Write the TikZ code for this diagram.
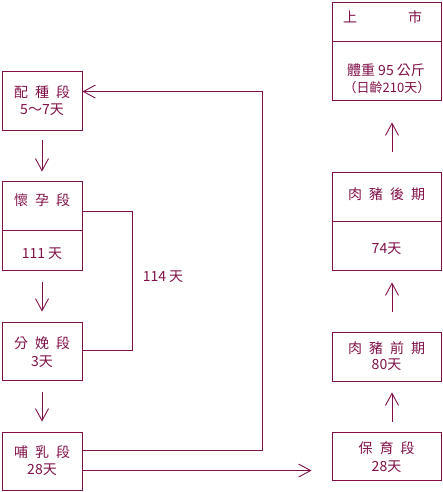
\documentclass[tikz,border=0pt]{standalone}
\usepackage{fontspec}
\setmainfont{Noto Sans CJK TC}
\usetikzlibrary{arrows.meta,calc}
\definecolor{ink}{RGB}{128,16,72}
\newcommand\gapp{\hspace{7pt}}
\tikzset{
  box/.style={draw=ink,line width=0.9pt,inner sep=0pt,minimum width=#1},
  wire/.style={draw=ink,line width=0.9pt},
  arr/.style={draw=ink,line width=0.9pt,-{Straight Barb[length=12pt,width=13pt]}},
  txt/.style={text=ink,inner sep=0pt,font=\fontsize{14}{16}\selectfont},
}
\begin{document}
\begin{tikzpicture}[x=1pt,y=-1pt]
\useasboundingbox (0,0) rectangle (443,492);
% left column boxes
\node[box=80pt,minimum height=59pt] (pz) at (42,100.5) {};
\node[box=80pt,minimum height=89pt] (hy) at (42,225.5) {};
\node[box=80pt,minimum height=58pt] (fm) at (42,351) {};
\node[box=80pt,minimum height=58pt] (br) at (42,461) {};
% right column boxes
\node[box=109pt,minimum height=48pt] (by) at (386.5,456) {};
\node[box=109pt,minimum height=49pt] (qq) at (386.5,356.5) {};
\node[box=109pt,minimum height=98pt] (hq) at (386.5,221) {};
\node[box=109pt,minimum height=98pt] (ss) at (386.5,51) {};
% dividers
\draw[wire] ($(hy.north west)+(0,50)$) -- ($(hy.north east)+(0,50)$);
\draw[wire] ($(hq.north west)+(0,50)$) -- ($(hq.north east)+(0,50)$);
\draw[wire] ($(ss.north west)+(0,40)$) -- ($(ss.north east)+(0,40)$);
% texts
\node[txt] (pzt) at (42,92) {配\gapp 種\gapp 段};
\node[txt] (pzs) at (42,110) {5～7天};
\node[txt] (hyt) at (42,200) {懷\gapp 孕\gapp 段};
\node[txt] (hys) at (42,254) {111 天};
\node[txt] (fmt) at (42,343) {分\gapp 娩\gapp 段};
\node[txt] (fms) at (42,362) {3天};
\node[txt] (brt) at (42,452) {哺\gapp 乳\gapp 段};
\node[txt] (brs) at (42,470) {28天};
\node[txt] (byt) at (386.5,448) {保\gapp 育\gapp 段};
\node[txt] (bys) at (386.5,467) {28天};
\node[txt] (qqt) at (386.5,348) {肉\gapp 豬\gapp 前\gapp 期};
\node[txt] (qqs) at (386.5,365) {80天};
\node[txt] (hqt) at (386.5,194) {肉\gapp 豬\gapp 後\gapp 期};
\node[txt] (hqs) at (386.5,249) {74天};
\node[txt] (ss1) at (350,17) {上};
\node[txt] (ss2) at (415,17) {市};
\node[txt] (ss3) at (386,70) {體重 95 公斤};
\node[txt,font=\fontsize{13}{15}\selectfont] (ss4) at (387,88) {（日齡210天）};
\node[txt] (lbl) at (163,277) {114 天};
% left column arrows
\draw[arr] ([yshift=-10pt]pz.south) -- ([yshift=9pt]hy.north);
\draw[arr] ([yshift=-12pt]hy.south) -- ([yshift=10pt]fm.north);
\draw[arr] ([yshift=-12pt]fm.south) -- ([yshift=10pt]br.north);
% bracket 114 days
\draw[wire] ($(hy.north east)+(0,31)$) -- ++(50,0) |- ($(fm.north east)+(0,29)$);
% loop back to pz
\draw[arr] ($(br.north east)+(0,19)$) -| ($(pz.north east)+(180,21)$) -- ($(pz.north east)+(0,21)$);
% to nursery
\draw[arr] ($(br.north east)+(0,39)$) -- ($(by.north west)+(-20,39)$);
% right column arrows
\draw[arr] ([xshift=5.5pt,yshift=10pt]by.north) -- ([xshift=5.5pt,yshift=-11pt]qq.south);
\draw[arr] ([xshift=5.5pt,yshift=20pt]qq.north) -- ([xshift=5.5pt,yshift=-12pt]hq.south);
\draw[arr] ([xshift=5.5pt,yshift=20pt]hq.north) -- ([xshift=5.5pt,yshift=-22pt]ss.south);
\end{tikzpicture}
\end{document}
